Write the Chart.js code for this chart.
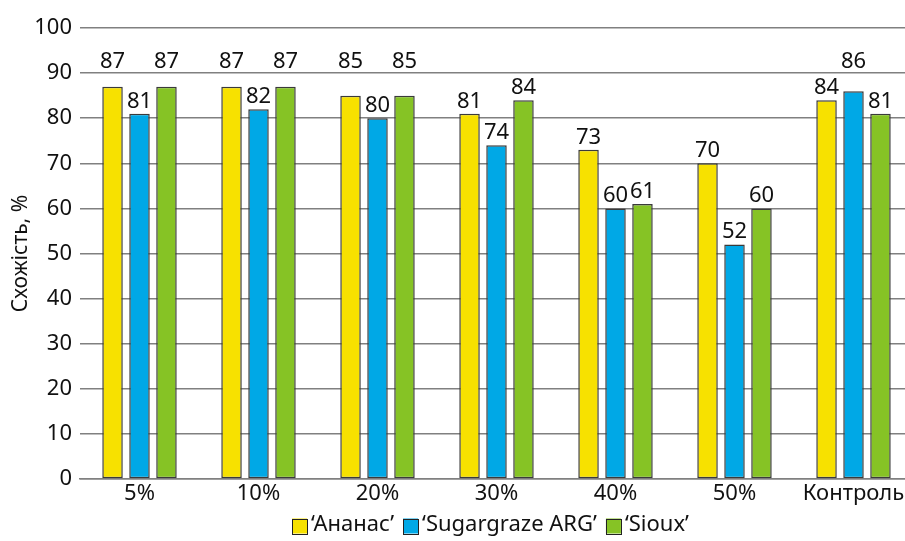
<!DOCTYPE html>
<html>
<head>
<meta charset="utf-8">
<script src="https://cdn.jsdelivr.net/npm/chart.js@4"></script>
<style>
html,body{margin:0;padding:0;background:#fff;overflow:hidden;}
#wrap{width:915px;height:541px;position:relative;}
</style>
</head>
<body>
<div id="wrap"><canvas id="c"></canvas></div>
<script>
const categories = ['5%', '10%', '20%', '30%', '40%', '50%', 'Контроль'];
const seriesNames = ['\u2018Ананас\u2019', '\u2018Sugargraze ARG\u2019', '\u2018Sioux\u2019'];
const ananas = [87, 87, 85, 81, 73, 70, 84];
const sugargraze = [81, 82, 80, 74, 60, 52, 86];
const sioux = [87, 87, 85, 84, 61, 60, 81];
const yTicks = [0, 10, 20, 30, 40, 50, 60, 70, 80, 90, 100];
const yTitle = 'Схожість, %';

const FONT = "'Noto Sans', sans-serif";
const FS = 22;
const colors = ['#F7E100', '#00A8E6', '#86C325'];

// value labels above bars; a label that would cross a gridline is lifted above it
const labelPlugin = {
  id: 'valueLabels',
  afterDatasetsDraw(chart) {
    const ctx = chart.ctx;
    const ys = chart.scales.y;
    const grid = yTicks.map(v => ys.getPixelForValue(v));
    const cap = FS * 0.72;
    ctx.save();
    ctx.font = FS + "px " + FONT;
    ctx.fillStyle = '#111';
    ctx.textAlign = 'center';
    ctx.textBaseline = 'alphabetic';
    chart.data.datasets.forEach((ds, i) => {
      const meta = chart.getDatasetMeta(i);
      meta.data.forEach((bar, j) => {
        let bottom = bar.y - 6;
        for (const g of grid) {
          if (g > bottom - cap - 2 && g < bottom + 2) { bottom = g - 5; }
        }
        ctx.fillText(String(ds.data[j]), bar.x, bottom);
      });
    });
    ctx.restore();
  }
};

const legendPlugin = {
  id: 'customLegend',
  afterDraw(chart) {
    const ctx = chart.ctx;
    const ca = chart.chartArea;
    ctx.save();
    ctx.font = FS + "px " + FONT;
    ctx.textBaseline = 'middle';
    ctx.textAlign = 'left';
    const box = 15, gapBox = 4, gapItem = 9;
    const items = chart.data.datasets.map(ds => ({ text: ds.label, color: ds.backgroundColor, w: ctx.measureText(ds.label).width }));
    let total = 0;
    items.forEach((it, i) => { total += box + gapBox + it.w + (i < items.length - 1 ? gapItem : 0); });
    let x = (ca.left + ca.right) / 2 - 6 - total / 2;
    const yc = 525;
    items.forEach(it => {
      ctx.fillStyle = it.color;
      ctx.fillRect(x, yc - box / 2 + 1, box, box);
      ctx.strokeStyle = '#222';
      ctx.lineWidth = 1;
      ctx.strokeRect(Math.round(x) + 0.5, Math.round(yc - box / 2 + 1) + 0.5, box, box);
      ctx.fillStyle = '#111';
      ctx.fillText(it.text, x + box + gapBox, yc);
      x += box + gapBox + it.w + gapItem;
    });
    ctx.restore();
  }
};

new Chart(document.getElementById('c'), {
  type: 'bar',
  data: {
    labels: categories,
    datasets: [ananas, sugargraze, sioux].map((d, i) => ({
      label: seriesNames[i],
      data: d,
      backgroundColor: colors[i],
      borderColor: '#3a3a3a',
      borderWidth: 1.5,
      borderSkipped: false,
      categoryPercentage: 0.68,
      barPercentage: 0.76
    }))
  },
  options: {
    responsive: true,
    maintainAspectRatio: false,
    animation: false,
    devicePixelRatio: 1,
    layout: { padding: { top: 28, right: 2, left: 0, bottom: 32 } },
    plugins: {
      legend: { display: false },
      tooltip: { enabled: false }
    },
    scales: {
      x: {
        grid: { display: false, drawTicks: false },
        border: { display: true, color: '#808080', width: 1.5 },
        ticks: { font: { family: FONT, size: FS }, color: '#111', padding: 2, maxRotation: 0, autoSkip: false },
        afterFit(s) { s.height = 30; }
      },
      y: {
        min: 0, max: 100,
        afterBuildTicks(s) { s.ticks = yTicks.map(v => ({ value: v })); },
        grid: { color: '#808080', lineWidth: 1.5, drawTicks: false },
        border: { display: false },
        ticks: { font: { family: FONT, size: FS }, color: '#111', padding: 8 },
        title: { display: true, text: yTitle, font: { family: FONT, size: FS - 1 }, color: '#111', padding: { top: 8, bottom: 0 } },
        afterFit(s) { s.width = 80; }
      }
    }
  },
  plugins: [labelPlugin, legendPlugin]
});
</script>
</body>
</html>
